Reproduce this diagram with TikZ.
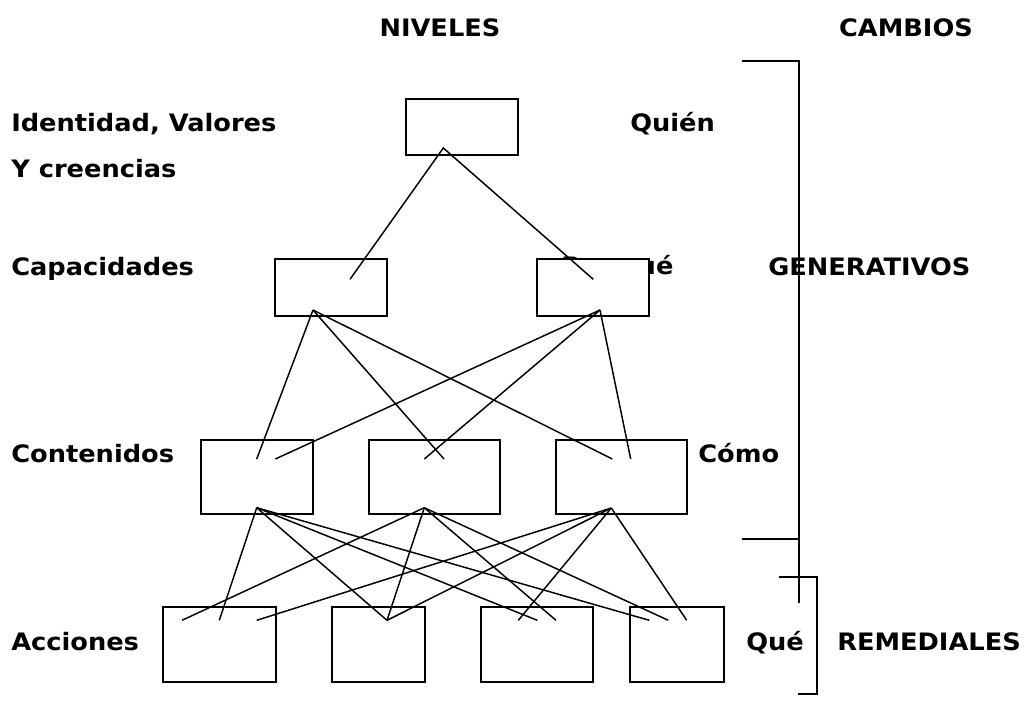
\documentclass[tikz,border=0pt]{standalone}
\usepackage{fontspec}
\setmainfont{DejaVu Sans}[FakeStretch=1.07]
\usepackage{tikz}
\usetikzlibrary{positioning,calc}

\tikzset{
  nivel/.style={draw, fill=white, line width=1.4pt, inner sep=0pt, outer sep=0pt},
  tam/.style 2 args={minimum width=#1*0.75pt, minimum height=#2*0.75pt},
  etiqueta/.style={anchor=base west, inner sep=0pt, font=\fontsize{18}{21}\selectfont\bfseries},
  enlace/.style={line width=1.1pt},
}

\begin{document}
\begin{tikzpicture}[x=0.75pt, y=-0.75pt]
    \useasboundingbox (0,0) rectangle (1027,701);

    % titulos
    \node[etiqueta, anchor=base] (niveles) at (440, 36) {NIVELES};
    \node[etiqueta, anchor=base] (cambios) at (906, 36) {CAMBIOS};

    % textos de la izquierda
    \node[etiqueta] (identidad) at (11, 131.5) {Identidad, Valores};
    \node[etiqueta] (creencias) at (11, 177) {Y creencias};
    \node[etiqueta] (capacidades) at (11, 275) {Capacidades};
    \node[etiqueta] (contenidos) at (11, 462) {Contenidos};
    \node[etiqueta] (acciones) at (11, 650) {Acciones};

    % textos de la derecha
    \node[etiqueta] (quien) at (630, 131.5) {Quién};
    \node[etiqueta] (porque) at (561, 274) {Por qué};
    \node[etiqueta] (generativos) at (768, 275) {GENERATIVOS};
    \node[etiqueta] (como) at (698, 462) {Cómo};
    \node[etiqueta] (que) at (746, 650) {Qué};
    \node[etiqueta] (remediales) at (837, 650) {REMEDIALES};

    % cajas
    \node[nivel, tam={112}{56}] (ident) at (462, 126.7) {};
    \node[nivel, tam={112}{56.7}] (capL) at (331, 287.6) {};
    \node[nivel, tam={112}{56.7}] (capR) at (593, 287.6) {};
    \node[nivel, tam={112}{74}] (conA) at (256.7, 477) {};
    \node[nivel, tam={131}{74}] (conB) at (434.3, 477) {};
    \node[nivel, tam={131}{74}] (conC) at (621.2, 477) {};
    \node[nivel, tam={112.4}{75.3}] (accA) at (219.5, 644.3) {};
    \node[nivel, tam={93.6}{75.3}] (accB) at (378.5, 644.3) {};
    \node[nivel, tam={112.3}{75.3}] (accC) at (537.2, 644.3) {};
    \node[nivel, tam={93.7}{75.3}] (accD) at (677.2, 644.3) {};

    % puntos de union
    \coordinate (ident-b) at (443.3, 148);
    \coordinate (capL-t) at (350, 279.3);
    \coordinate (capR-t) at (593.3, 279.3);
    \coordinate (capL-b) at (313, 310);
    \coordinate (capR-b) at (600, 310);
    \coordinate (conA-t1) at (256.7, 459);
    \coordinate (conA-t2) at (275.3, 459);
    \coordinate (conB-t1) at (424.3, 459);
    \coordinate (conB-t2) at (444, 459);
    \coordinate (conC-t1) at (612.3, 459);
    \coordinate (conC-t2) at (630.7, 459);
    \coordinate (conA-b) at (256.7, 507.7);
    \coordinate (conB-b) at (424.3, 507.7);
    \coordinate (conC-b) at (611.3, 508);
    \coordinate (accA-t1) at (182, 620.3);
    \coordinate (accA-t2) at (219.3, 620.3);
    \coordinate (accA-t3) at (256.7, 620.3);
    \coordinate (accB-t) at (387, 620.3);
    \coordinate (accC-t1) at (518.3, 620.3);
    \coordinate (accC-t2) at (537.3, 620.3);
    \coordinate (accC-t3) at (556, 620.3);
    \coordinate (accD-t1) at (649.3, 620.3);
    \coordinate (accD-t2) at (668.3, 620.3);
    \coordinate (accD-t3) at (686.7, 620.3);

    % enlaces
    \draw[enlace] (capL-t) -- (ident-b) -- (capR-t);
    \foreach \a in {conA-t1, conB-t2, conC-t1} \draw[enlace] (capL-b) -- (\a);
    \foreach \a in {conA-t2, conB-t1, conC-t2} \draw[enlace] (capR-b) -- (\a);
    \foreach \a in {accA-t2, accB-t, accC-t2, accD-t1} \draw[enlace] (conA-b) -- (\a);
    \foreach \a in {accA-t1, accB-t, accC-t3, accD-t2} \draw[enlace] (conB-b) -- (\a);
    \foreach \a in {accA-t3, accB-t, accC-t1, accD-t3} \draw[enlace] (conC-b) -- (\a);

    % llaves de los cambios
    \coordinate (gen-a) at (741.7, 61.3);
    \coordinate (gen-b) at (799, 602.7);
    \coordinate (gen-c) at (741.7, 539);
    \coordinate (rem-a) at (779.3, 576.7);
    \coordinate (rem-b) at (817.3, 694);
    \coordinate (rem-c) at (797.7, 694);
    \draw[line width=1.4pt] (gen-a) -| (gen-b);
    \draw[line width=1.4pt] (gen-c) -- (gen-c -| gen-b);
    \draw[line width=1.4pt] (rem-a) -| (rem-b) -- (rem-c);
\end{tikzpicture}
\end{document}
